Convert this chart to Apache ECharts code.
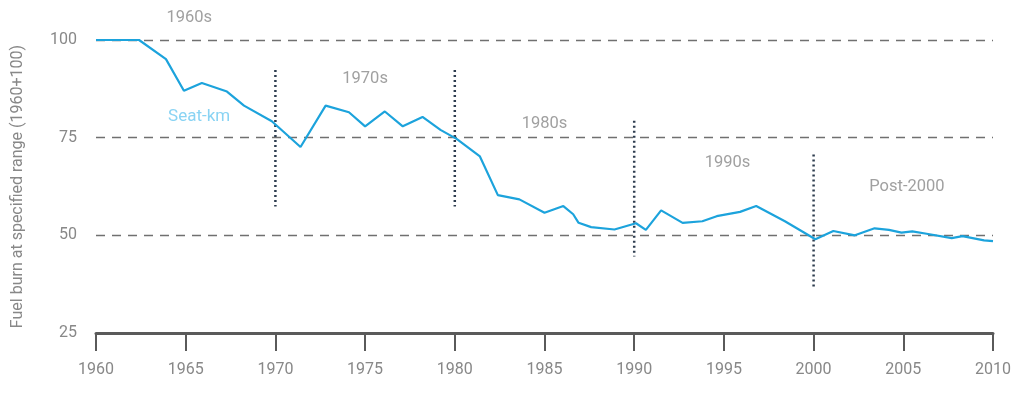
<!DOCTYPE html>
<html><head><meta charset="utf-8">
<script src="https://cdn.jsdelivr.net/npm/echarts@6/dist/echarts.min.js"></script>
<style>html,body{margin:0;padding:0;background:#fff}#c{width:1024px;height:393px}</style>
</head><body><div id="c"></div>
<script>
const years = [1960, 1962.4, 1963.9, 1964.9, 1965.9, 1967.3, 1968.25, 1969.8, 1971.4, 1972.8, 1974.1, 1975.0, 1976.1, 1977.1, 1978.2, 1979.2, 1980.1, 1981.4, 1982.4, 1983.6, 1985.0, 1986.05, 1986.6, 1986.9, 1987.6, 1988.9, 1990.1, 1990.65, 1991.5, 1992.7, 1993.8, 1994.6, 1995.9, 1996.8, 1998.4, 2000.1, 2001.1, 2002.3, 2003.4, 2004.2, 2004.9, 2005.5, 2006.3, 2007.7, 2008.3, 2009.5, 2010];
const seatKm = [100, 100, 95.1, 87, 89, 86.8, 83.2, 79.2, 72.6, 83.2, 81.5, 77.9, 81.7, 77.9, 80.3, 77.0, 74.7, 70.2, 60.3, 59.2, 55.8, 57.5, 55.4, 53.2, 52.1, 51.5, 53.1, 51.4, 56.4, 53.2, 53.6, 54.9, 56.0, 57.5, 53.6, 49.0, 51.1, 50.0, 51.8, 51.4, 50.7, 51.0, 50.4, 49.3, 49.8, 48.7, 48.5];
const dividerYears = [1970, 1980, 1990, 2000];
const dividerTop = [92.3, 92.3, 79.3, 70.7];
const dividerBottom = [57.4, 57.4, 44.6, 36.2];
const eraLabels = ['1960s', '1970s', '1980s', '1990s', 'Post-2000'];
const eraX = [1965.2, 1975.0, 1985.0, 1995.2, 2005.2];
const eraY = [105.6, 90.0, 78.6, 68.6, 62.5];
const seriesLabel = 'Seat-km';
const seriesLabelPos = [1965.75, 80.4];
const yTicks = [25, 50, 75, 100];

const FONT = 'Roboto';
const series = [{
  type: 'line', name: seriesLabel,
  data: years.map((y, i) => [y, seatKm[i]]),
  showSymbol: false, symbol: 'none',
  lineStyle: { color: '#1ca3dc', width: 2.2 },
  z: 5
}];
dividerYears.forEach((yr, i) => {
  series.push({
    type: 'line', data: [[yr, dividerTop[i]], [yr, dividerBottom[i]]],
    symbol: 'none', silent: true,
    lineStyle: { color: '#2e3d4f', width: 2.5, type: [2, 3] }, z: 4
  });
});
series.push({
  type: 'scatter', clip: false, symbolSize: 0, silent: true,
  data: eraLabels.map((t, i) => ({ value: [eraX[i], eraY[i]], name: t })),
  label: { show: true, position: 'inside', formatter: p => p.name, color: '#888888', fontSize: 16.5, fontFamily: FONT }
});
series.push({
  type: 'scatter', clip: false, symbolSize: 0, silent: true,
  data: [{ value: seriesLabelPos, name: seriesLabel }],
  label: { show: true, position: 'inside', formatter: p => p.name, color: '#6cc8f0', fontSize: 17, fontFamily: FONT }
});

const chart = echarts.init(document.getElementById('c'), null, { renderer: 'canvas' });
chart.setOption({
  animation: false,
  grid: { left: 96, right: 31, top: 40, bottom: 60, containLabel: false, outerBoundsMode: 'none' },
  xAxis: {
    type: 'value', min: 1960, max: 2010, interval: 5,
    axisLine: { show: true, lineStyle: { color: '#5a5a5a', width: 3 } },
    axisTick: { show: true, length: 18, lineStyle: { color: '#5a5a5a', width: 2 } },
    axisLabel: { margin: 29, color: '#888888', fontSize: 16, fontFamily: FONT, formatter: v => String(v) },
    splitLine: { show: false }
  },
  yAxis: {
    type: 'value', min: 25, max: 100, interval: 25,
    name: 'Fuel burn at specified range (1960+100)', nameLocation: 'middle', nameGap: 70,
    nameTextStyle: { color: '#888888', fontSize: 16, fontFamily: FONT },
    axisLine: { show: false }, axisTick: { show: false },
    axisLabel: { margin: 19, color: '#888888', fontSize: 16, fontFamily: FONT,
      formatter: v => yTicks.includes(v) ? String(v) : '' },
    splitLine: { show: true, lineStyle: { color: '#707070', width: 1.3, type: [9, 7] } }
  },
  series
});
</script></body></html>
